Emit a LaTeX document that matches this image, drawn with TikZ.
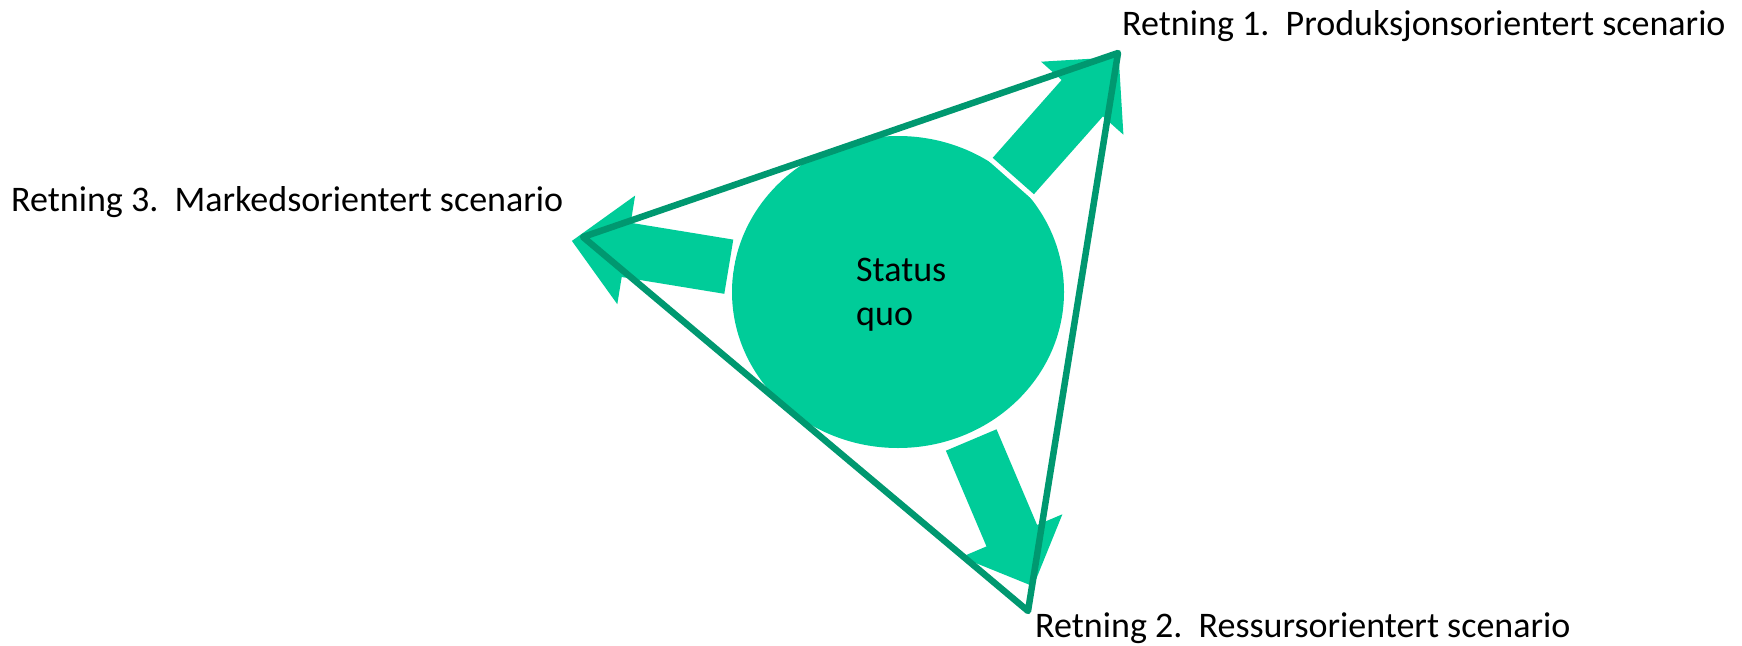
\documentclass[tikz,border=0pt]{standalone}
\usepackage{fontspec}
\setmainfont{Carlito}
\definecolor{fillg}{HTML}{00CC99}
\definecolor{edgeg}{HTML}{009870}
\tikzset{
  blockarrow/.style={fill=fillg, preaction={draw=white, line width=10pt, line join=miter}},
  tri/.style={draw=edgeg, line width=6.5pt, line join=round},
  lbl/.style={anchor=base west, inner sep=0pt, font=\fontsize{36}{44}\selectfont}
}
\begin{document}
\frenchspacing
\begin{tikzpicture}[x=1pt,y=-1pt]
\useasboundingbox (0,0) rectangle (1742,645);
% central circle
\fill[fillg] (898,292) ellipse [x radius=166, y radius=156];
% block arrows
\path[blockarrow] (1033.9,194.2) -- (1102.9,116.4) -- (1123.4,134.7) -- (1118.7,57.1) -- (1041.1,61.7) -- (1061.6,80.0) -- (992.7,157.8) -- cycle;
\path[blockarrow] (724.3,293.8) -- (621.7,277.0) -- (617.3,304.2) -- (571.9,240.9) -- (635.1,195.6) -- (630.7,222.8) -- (733.3,239.6) -- cycle;
\path[blockarrow] (996.5,429.3) -- (1037.1,525.0) -- (1062.4,514.25) -- (1033.2,586.3) -- (961.2,557.15) -- (986.5,546.4) -- (945.9,450.7) -- cycle;
% triangle
\coordinate (v1) at (1118,53);
\coordinate (v2) at (1028,611);
\coordinate (v3) at (583,237);
\draw[tri] (v1) -- (v2) -- (v3) -- cycle;
% texts
\node[lbl] (sq1) at (856,281) {Status};
\node[lbl] (sq2) at (856,325) {quo};
\node[lbl] (r1) at (1122,35) {Retning 1.\ \ Produksjonsorientert scenario};
\node[lbl] (r2) at (1035,637) {Retning 2.\ \ Ressursorientert scenario};
\node[lbl] (r3) at (11,211) {Retning 3.\ \ Markedsorientert scenario};
\end{tikzpicture}
\end{document}
